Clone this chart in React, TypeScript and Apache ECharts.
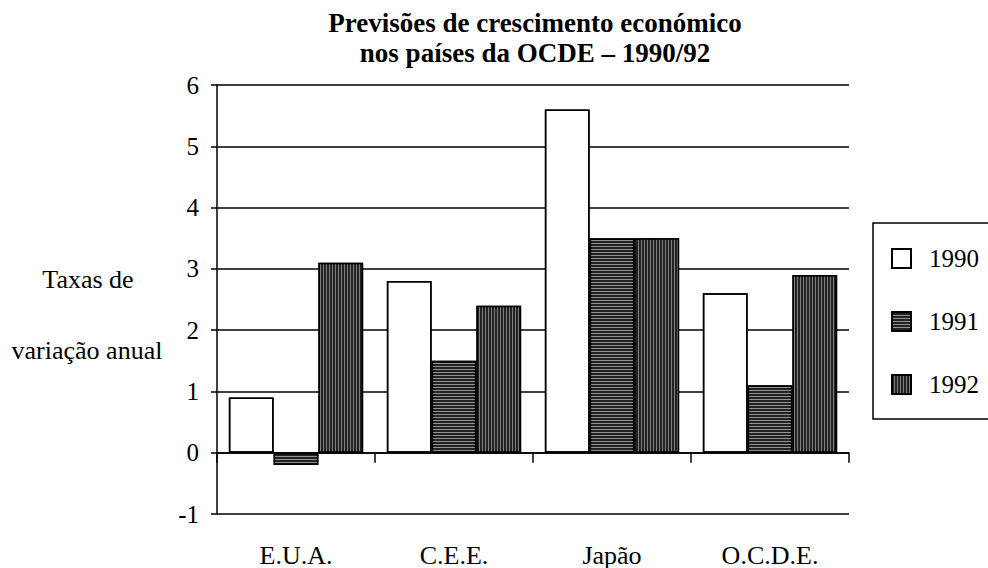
import React, { useEffect, useRef } from "react";
import * as echarts from "echarts";

const titleLines = ["Previsões de crescimento económico", "nos países da OCDE – 1990/92"];
const categories = ["E.U.A.", "C.E.E.", "Japão", "O.C.D.E."];
const seriesNames = ["1990", "1991", "1992"];
const values1990 = [0.9, 2.8, 5.6, 2.6];
const values1991 = [-0.2, 1.5, 3.5, 1.1];
const values1992 = [3.1, 2.4, 3.5, 2.9];
const yAxisNameLines = ["Taxas de", "variação anual"];

const SERIF = "Liberation Serif, Times New Roman, serif";

export default function App() {
  const ref = useRef<HTMLDivElement>(null);
  useEffect(() => {
    if (!ref.current) return;
    const chart = echarts.init(ref.current, null, { renderer: "svg" });
    const border = { borderColor: "#000", borderWidth: 1.5 };
    const option = {
      animation: false,
      backgroundColor: "#fff",
      title: {
        text: titleLines.join("\n"),
        left: 535,
        top: 8,
        padding: 0,
        textAlign: "center",
        textStyle: { fontFamily: SERIF, fontWeight: "bold", fontSize: 27, lineHeight: 30, color: "#000" },
      },
      grid: { left: 217, right: 139, top: 85, bottom: 7, containLabel: false },
      legend: {
        orient: "vertical",
        left: 873,
        top: 223,
        padding: [23, 40, 22, 18],
        itemGap: 38,
        itemWidth: 19,
        itemHeight: 19,
        borderColor: "#000",
        borderWidth: 1.5,
        borderRadius: 0,
        icon: "rect",
        data: seriesNames,
        textStyle: { fontFamily: SERIF, fontSize: 25, color: "#000", padding: [0, 0, 0, 13] },
      },
      xAxis: {
        type: "category",
        data: categories,
        axisLine: { show: true, onZero: true, lineStyle: { color: "#000", width: 1.5 } },
        axisTick: { show: true, interval: 0, length: 10, lineStyle: { color: "#000", width: 1.5 } },
        axisLabel: { fontFamily: SERIF, fontSize: 26, color: "#000", margin: 28, interval: 0 },
        splitLine: { show: false },
      },
      yAxis: {
        type: "value",
        min: -1,
        max: 6,
        interval: 1,
        axisLine: { show: true, lineStyle: { color: "#000", width: 1.5 } },
        axisTick: { show: true, length: 6, lineStyle: { color: "#000", width: 1.5 } },
        axisLabel: { fontFamily: SERIF, fontSize: 25, color: "#000", margin: 18 },
        splitLine: { show: true, lineStyle: { color: "#000", width: 1.5 } },
      },
      graphic: [
        {
          type: "text",
          x: 88,
          y: 279,
          style: {
            text: yAxisNameLines[0],
            fontFamily: SERIF,
            fontSize: 26,
            fill: "#000",
            align: "center",
            verticalAlign: "middle",
          },
        },
        {
          type: "text",
          x: 87,
          y: 350,
          style: {
            text: yAxisNameLines[1],
            fontFamily: SERIF,
            fontSize: 26,
            fill: "#000",
            align: "center",
            verticalAlign: "middle",
          },
        },
      ],
      series: [
        {
          name: seriesNames[0],
          type: "bar",
          data: values1990,
          barGap: "0%",
          barCategoryGap: "15%",
          itemStyle: {
            color: "#fff",
            ...border,
            decal: {
              symbol: "circle",
              symbolSize: 0.9,
              color: "rgba(0,0,0,0.35)",
              dashArrayX: [1, 11],
              dashArrayY: [1, 15],
              rotation: 0.3,
            },
          },
        },
        {
          name: seriesNames[1],
          type: "bar",
          data: values1991,
          barGap: "0%",
          barCategoryGap: "15%",
          itemStyle: {
            color: "#222",
            ...border,
            decal: {
              symbol: "rect",
              symbolSize: 1,
              symbolKeepAspect: false,
              color: "rgba(255,255,255,0.5)",
              dashArrayX: [1, 0],
              dashArrayY: [1, 2],
              rotation: 0,
            },
          },
        },
        {
          name: seriesNames[2],
          type: "bar",
          data: values1992,
          barGap: "0%",
          barCategoryGap: "15%",
          itemStyle: {
            color: "#222",
            ...border,
            decal: {
              symbol: "rect",
              symbolSize: 1,
              symbolKeepAspect: false,
              color: "rgba(255,255,255,0.42)",
              dashArrayX: [1, 0],
              dashArrayY: [1, 2],
              rotation: Math.PI / 2,
            },
          },
        },
      ],
    };
    chart.setOption(option as any);
    return () => chart.dispose();
  }, []);
  return (
    <div
      ref={ref}
      style={{ position: "absolute", left: 0, top: 0, width: 988, height: 568 }}
    />
  );
}
